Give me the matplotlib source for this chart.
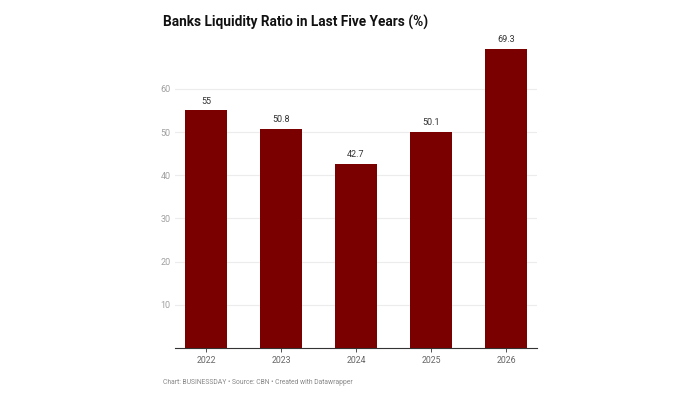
import matplotlib
matplotlib.use("Agg")
import matplotlib.pyplot as plt

years = ["2022", "2023", "2024", "2025", "2026"]
values = [55, 50.8, 42.7, 50.1, 69.3]
value_labels = ["55", "50.8", "42.7", "50.1", "69.3"]
yticks = [10, 20, 30, 40, 50, 60]

plt.rcParams['font.family'] = ['Roboto', 'DejaVu Sans']

fig = plt.figure(figsize=(7, 4), dpi=100)
W, H = 700, 400
x0, x1 = 175, 537
y_base = 348
ymax = 72
px_per_unit = 4.32
y_top = y_base - ymax * px_per_unit
ax = fig.add_axes([x0 / W, 1 - y_base / H, (x1 - x0) / W, (y_base - y_top) / H])

xs = list(range(len(years)))
ax.bar(xs, values, width=0.56, color="#7a0000", zorder=3)
for x, v, lab in zip(xs, values, value_labels):
    ax.annotate(lab, (x, v), xytext=(0, 3), textcoords="offset points",
                ha="center", va="bottom", fontsize=6.5, color="#333333", zorder=4)

ax.set_xlim(-0.413, len(years) - 1 + 0.413)
ax.set_ylim(0, ymax)
ax.set_yticks(yticks)
ax.set_yticklabels([str(t) for t in yticks])
ax.set_xticks(xs)
ax.set_xticklabels(years)
ax.grid(axis="y", color="#ececec", linewidth=0.8, zorder=0)
for s in ["top", "right", "left"]:
    ax.spines[s].set_visible(False)
ax.spines["bottom"].set_color("#333333")
ax.spines["bottom"].set_linewidth(0.8)
ax.tick_params(axis="y", length=0, pad=3, labelsize=6.5, labelcolor="#a0a0a0")
ax.tick_params(axis="x", length=3, width=0.6, color="#333333", pad=3, labelsize=6.3, labelcolor="#666666")

fig.text(163 / W, 1 - 22 / H, "Banks Liquidity Ratio in Last Five Years (%)",
         fontsize=9.8, fontweight="bold", color="#111111", ha="left", va="center")
fig.text(163 / W, 1 - 383 / H, "Chart: BUSINESSDAY \u2022 Source: CBN \u2022 Created with Datawrapper",
         fontsize=4.9, color="#888888", ha="left", va="center")

fig.savefig("out.png", dpi=100)
